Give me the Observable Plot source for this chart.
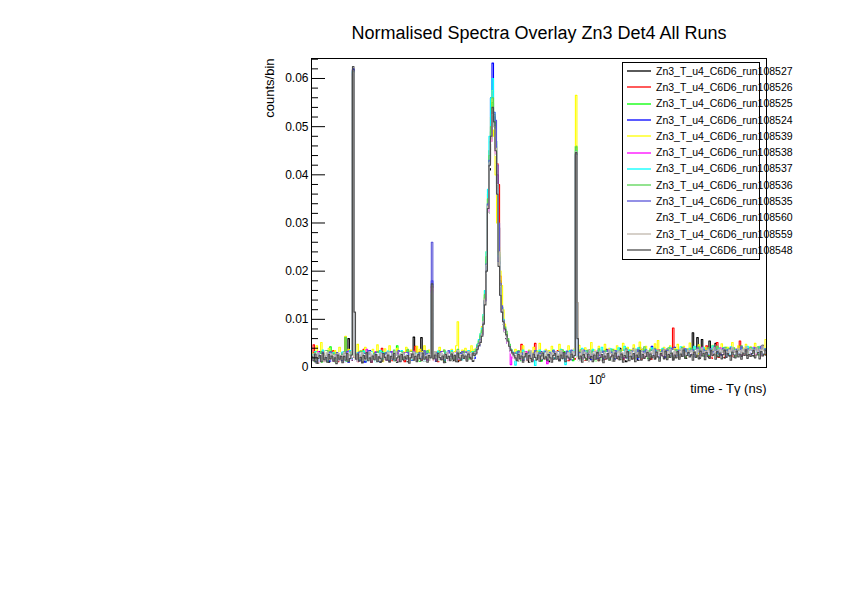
<!DOCTYPE html>
<html>
<head>
<meta charset="utf-8">
<script src="https://cdn.jsdelivr.net/npm/d3@7"></script>
<script src="https://cdn.jsdelivr.net/npm/@observablehq/plot@0.6"></script>
<style>
  html, body { margin: 0; padding: 0; background: #fff; }
  #chart { width: 842px; height: 595px; }
  svg { font-family: "Liberation Sans", Arial, Helvetica, sans-serif; }
</style>
</head>
<body>
<div id="chart"></div>
<script>
// ---- Chart texts ----
const titleText = "Normalised Spectra Overlay Zn3 Det4 All Runs";
const xLabel = "time - T\u03b3 (ns)";
const yLabel = "counts/bin";

// ---- Histogram binning (log-spaced bins, as in the source histograms) ----
const nBins = 300;
const tMin = 2.68e5;
const tMax = 2.18e6;

// ---- Axis ticks ----
const yMajorTicks = [0, 0.01, 0.02, 0.03, 0.04, 0.05, 0.06];
const yMinorTicks = [0.002, 0.004, 0.006, 0.008, 0.012, 0.014, 0.016, 0.018, 0.022, 0.024, 0.026, 0.028,
  0.032, 0.034, 0.036, 0.038, 0.042, 0.044, 0.046, 0.048, 0.052, 0.054, 0.056, 0.058, 0.062, 0.064];
const xMajorTicks = [1e6];
const xTickBase = "10";
const xTickExp = "6";

// ---- Series (legend order = draw order) ----
const runNames = [
  "Zn3_T_u4_C6D6_run108527", "Zn3_T_u4_C6D6_run108526", "Zn3_T_u4_C6D6_run108525",
  "Zn3_T_u4_C6D6_run108524", "Zn3_T_u4_C6D6_run108539", "Zn3_T_u4_C6D6_run108538",
  "Zn3_T_u4_C6D6_run108537", "Zn3_T_u4_C6D6_run108536", "Zn3_T_u4_C6D6_run108535",
  "Zn3_T_u4_C6D6_run108560", "Zn3_T_u4_C6D6_run108559", "Zn3_T_u4_C6D6_run108548"
];
const runColors = ["#000000", "#ff0000", "#00ff00", "#0000ff", "#ffff00", "#ff00ff",
  "#00ffff", "#59d454", "#5954d9", "#ffffff", "#c0b6ac", "#4d4d4d"];

// bin contents, in units of 1e-4 counts/bin (300 bins each)
const run108527 = [
  18,30,12,25,9,33,20,14,27,16, 24,11,29,20,15,27,13,31,22,17, 26,12,63,19,60,28,15,618,22,13,
  28,17,26,10,31,21,15,24,29,12, 20,27,14,22,34,11,25,18,30,16, 23,13,29,21,17,26,11,28,19,32,
  15,25,20,12,29,23,17,63,26,14, 22,18,62,27,13,24,30,16,21,160, 19,24,13,30,21,16,27,22,11,29,
  25,18,23,14,28,20,12,26,31,17, 22,27,15,29,19,24,13,26,32,40, 48,58,70,95,140,215,320,410,470,500,
  520,470,400,290,180,120,90,74,60,50, 40,33,28,22,17,27,13,25,20,31, 16,31,24,11,26,19,30,22,15,28,
  21,14,27,33,18,25,12,29,23,17, 26,20,31,14,24,28,16,22,33,19, 25,30,18,25,440,27,14,29,22,17,
  31,23,12,27,20,35,16,28,24,19, 26,14,30,21,38,17,25,29,13,33, 22,27,16,40,24,19,31,12,28,23,
  35,18,26,30,21,15,42,24,38,20, 29,23,31,17,26,34,19,28,22,36, 25,30,19,27,38,21,33,24,17,29,
  32,26,20,35,28,23,38,19,30,25, 27,72,22,31,62,26,19,58,24,33, 28,21,55,30,25,34,50,23,29,36,
  26,32,20,37,28,24,40,30,22,35, 31,27,45,23,34,29,38,25,32,28, 36,24,30,41,27,33,29,46,31,26];
const run108526 = [
  25,47,15,22,30,11,26,19,33,14, 21,28,16,24,35,18,23,12,29,20, 27,17,24,31,14,26,20,612,21,28,
  12,29,17,23,38,14,26,20,31,11, 24,19,33,15,27,22,40,13,25,30, 17,21,28,14,26,18,32,23,15,29,
  24,12,35,20,27,16,30,22,44,19, 26,33,15,28,24,17,30,21,25,168, 15,29,24,12,35,20,27,16,30,22,
  19,26,31,17,28,21,33,14,27,23, 30,18,26,22,34,20,28,24,33,42, 50,60,72,98,145,210,330,420,470,510,
  500,460,423,380,190,125,95,76,62,52, 42,35,29,24,18,31,17,26,48,20, 29,14,25,33,18,27,22,50,15,28,
  21,32,24,17,30,23,16,26,19,33, 27,22,35,18,29,24,31,20,25,14, 33,21,27,17,438,21,33,19,27,24,
  15,29,22,36,18,26,31,20,25,14, 33,21,27,17,30,24,19,28,22,35, 26,18,31,23,29,16,27,23,20,32,
  24,30,19,27,35,22,28,17,31,25, 21,33,26,29,18,30,24,35,27,20, 31,26,23,28,19,34,25,30,82,27,
  22,36,28,24,32,26,30,21,38,29, 25,33,28,36,23,30,27,34,26,31, 45,28,23,31,19,36,26,52,21,29,
  27,34,22,30,25,28,38,24,32,26, 33,29,55,25,31,27,36,30,24,34, 28,37,26,32,29,35,24,40,30,27];
const run108525 = [
  20,13,27,33,16,24,11,29,21,18, 30,15,43,22,26,12,28,19,31,24, 14,25,20,28,17,33,22,615,27,19,
  24,30,16,21,35,13,26,19,29,22, 17,31,24,14,27,21,33,18,25,28, 22,15,30,19,26,13,45,21,32,17,
  25,29,20,34,16,27,22,31,18,24, 28,13,26,33,20,25,17,30,23,150, 25,18,28,22,15,30,19,26,13,29,
  21,32,17,25,29,20,34,16,27,22, 31,18,24,27,20,33,26,30,34,44, 50,62,75,100,150,225,340,430,490,550,
  520,470,380,240,170,125,100,85,70,60, 48,38,32,26,22,19,30,14,27,22, 33,18,25,21,30,16,26,22,34,19,
  28,13,24,31,20,27,15,29,22,36, 19,25,30,22,27,17,33,24,20,28, 31,25,14,29,460,24,30,18,26,21,
  33,17,28,23,20,31,25,14,29,22, 18,30,24,35,21,27,16,32,25,19, 28,23,34,17,26,30,21,29,18,36,
  22,27,31,19,25,33,20,28,24,30, 26,19,32,24,38,21,29,25,33,18, 30,24,27,35,20,28,32,23,29,26,
  22,33,27,30,24,37,21,29,34,25, 31,26,35,22,29,33,27,40,24,30, 28,34,25,31,37,26,32,29,23,36,
  33,27,30,42,25,31,28,35,29,24, 37,30,26,33,29,36,31,27,40,32, 29,34,31,38,26,32,35,30,28,39];
const run108524 = [
  15,28,21,12,30,19,25,16,23,34, 18,26,13,29,20,24,31,17,22,27, 14,32,19,25,11,28,21,620,30,22,
  26,14,32,19,25,11,28,21,35,16, 22,29,18,26,13,31,24,17,27,20, 33,15,25,21,29,16,24,19,27,13,
  20,31,18,25,22,34,15,28,19,26, 30,21,24,33,18,27,16,29,22,180, 27,13,20,31,18,25,22,34,15,28,
  19,26,30,21,24,33,18,27,23,29, 21,32,17,25,28,22,30,19,31,36, 44,55,68,92,138,210,340,450,560,632,
  520,440,350,220,150,115,92,76,62,50, 40,33,27,22,17,33,25,21,30,15, 28,24,19,35,22,28,16,31,25,20,
  27,33,18,23,29,16,26,21,30,25, 20,27,33,18,23,29,16,26,21,30, 29,16,26,21,442,30,19,25,32,22,
  27,35,20,28,16,30,23,26,19,33, 24,29,18,31,25,22,36,20,27,30, 17,33,25,28,21,37,24,30,19,27,
  31,22,40,25,29,18,33,26,21,35, 27,30,24,28,44,22,31,26,36,20, 29,25,33,21,38,27,24,31,28,42,
  23,30,26,35,29,24,32,27,38,25, 33,28,22,36,30,41,26,32,29,24, 35,27,31,38,25,33,29,44,28,30,
  26,34,30,23,37,31,28,35,40,27, 32,29,36,26,33,30,39,28,34,31, 27,38,31,35,29,42,33,26,36,30];
const run108539 = [
  30,18,24,45,13,27,52,20,34,16, 26,40,19,28,22,35,15,29,42,19, 31,26,65,14,38,21,28,605,30,17,
  48,23,35,15,29,42,19,31,26,14, 38,21,28,47,17,33,24,12,39,27, 20,45,26,18,31,22,40,15,29,24,
  33,20,42,27,16,36,25,30,19,44, 28,38,22,33,45,30,24,36,27,155, 29,24,33,20,42,27,16,36,25,30,
  19,28,38,22,33,45,95,30,24,36, 27,40,22,33,29,45,31,38,40,48, 56,70,85,110,160,240,360,450,520,575,
  480,400,300,250,200,170,120,90,70,55, 42,35,28,20,38,26,18,34,27,45, 22,31,17,36,29,24,42,21,33,27,
  50,19,31,25,38,22,35,28,44,26, 33,19,29,48,24,36,22,31,27,45, 20,34,28,39,565,31,46,22,35,29,
  41,24,33,27,52,21,37,30,25,44, 28,36,23,48,31,26,40,33,22,38, 30,45,27,35,24,50,32,28,42,26,
  37,31,47,25,34,29,53,30,38,27, 44,32,26,40,35,30,49,28,56,33, 36,27,42,31,38,25,45,33,29,40,
  34,48,30,37,27,44,32,39,28,51, 35,29,43,33,26,47,31,38,30,42, 28,40,35,30,46,33,27,44,36,31,
  49,32,38,29,42,35,30,52,34,39, 31,45,36,28,41,33,48,30,37,43, 35,29,50,38,32,44,36,41,30,58];
const run108538 = [
  22,14,29,19,33,12,25,21,16,28, 20,31,17,24,13,27,19,25,15,30, 21,12,26,18,34,23,16,610,29,20,
  14,27,22,31,17,25,38,19,24,12, 28,21,33,16,25,19,30,22,27,15, 24,29,18,33,21,26,14,30,23,19,
  27,22,31,25,17,28,20,34,16,26, 23,30,19,27,21,33,15,28,24,165, 22,27,15,24,29,18,33,21,26,14,
  30,23,19,27,22,31,25,17,28,20, 26,32,18,29,24,30,21,27,31,42, 50,60,72,95,140,205,325,420,470,530,
  505,445,370,230,160,118,94,78,64,50, 40,6,26,19,31,22,27,16,29,24, 20,33,18,26,21,29,15,27,23,31,
  19,24,30,20,27,8,23,29,17,26, 33,21,28,24,19,32,26,22,30,18, 27,29,23,33,445,26,31,24,19,35,
  22,27,32,21,28,24,30,19,34,26, 23,30,25,28,21,36,27,23,31,26, 29,22,34,27,24,30,19,35,28,25,
  31,26,29,23,37,27,32,25,30,22, 34,28,25,33,29,24,31,27,36,26, 30,25,38,28,33,27,35,29,31,26,
  37,29,34,31,27,40,30,28,36,33, 29,35,31,27,38,32,26,42,30,34, 28,36,32,39,27,34,30,37,29,41,
  33,29,40,31,35,28,38,32,36,30, 38,31,27,41,33,36,29,39,34,32, 30,42,35,28,37,33,40,31,36,34];
const run108537 = [
  27,17,33,22,14,29,20,36,18,25, 13,30,22,19,31,16,24,28,20,17, 32,25,13,28,21,35,18,615,26,22,
  31,16,27,20,34,23,14,29,21,33, 19,26,12,30,24,35,18,31,20,27, 34,17,29,23,15,32,26,20,28,35,
  18,27,24,33,21,29,16,25,30,22, 26,19,31,24,14,28,33,21,25,158, 31,20,27,34,17,29,23,15,32,26,
  20,28,35,18,27,24,33,21,29,16, 25,30,22,35,27,29,33,24,38,48, 58,70,82,110,160,240,370,480,560,600,
  530,470,370,230,165,125,100,82,68,56, 46,38,32,27,5,32,20,28,24,36, 17,29,22,26,33,19,28,4,30,25,
  36,21,29,34,20,28,25,32,22,36, 27,19,30,24,38,22,29,6,33,27, 35,21,28,36,450,23,31,26,40,22,
  34,29,25,33,27,38,24,31,22,36, 29,42,26,31,35,24,28,39,30,25, 34,27,41,29,32,26,44,30,25,36,
  28,33,24,38,29,41,30,26,35,31, 38,29,34,27,41,30,26,35,31,28, 33,40,28,31,36,27,42,30,34,29,
  37,31,26,43,32,29,38,34,27,40, 31,36,44,28,33,39,30,35,41,29, 34,28,37,32,45,30,36,29,40,33,
  29,41,35,31,38,27,43,34,30,37, 36,32,29,40,34,38,31,44,33,35, 41,30,37,34,29,43,35,32,39,36];
const run108536 = [
  19,26,31,14,24,20,33,17,28,22, 35,18,25,21,29,16,26,24,20,28, 17,30,62,13,27,32,19,614,25,24,
  28,21,34,15,26,30,22,17,31,25, 18,29,25,33,14,27,22,20,30,25, 18,31,22,28,36,19,27,24,15,32,
  25,19,29,38,21,26,33,17,28,23, 30,24,19,27,32,22,35,18,26,152, 20,30,25,18,31,22,28,36,19,27,
  24,15,32,25,19,29,38,21,30,27, 34,22,29,17,31,26,20,33,36,46, 55,66,78,105,152,230,350,440,500,560,
  525,465,375,235,165,122,97,84,75,60, 48,38,30,25,30,22,35,19,27,31, 24,20,28,34,22,29,17,31,26,20,
  33,27,24,19,32,27,22,30,24,35, 21,28,25,32,20,37,24,29,33,22, 30,35,20,26,458,23,29,37,25,31,
  27,24,36,28,22,33,27,31,25,39, 28,26,32,29,35,23,30,27,38,25, 33,31,27,36,24,32,28,40,26,30,
  35,27,33,29,38,25,31,35,28,43, 30,34,29,37,26,32,40,30,35,28, 33,38,27,34,30,41,28,36,32,29,
  37,31,35,28,42,33,29,38,34,30, 40,32,36,29,34,43,31,37,33,28, 35,41,30,38,32,36,29,44,34,31,
  37,33,42,30,36,39,32,35,41,29, 34,38,31,45,35,32,40,36,30,42, 33,39,36,31,43,37,34,40,35,38];
const run108535 = [
  24,16,29,21,13,27,19,32,23,15, 28,20,33,17,25,22,27,14,30,22, 19,28,24,33,16,25,20,617,29,13,
  26,32,18,24,21,29,16,35,22,27, 20,25,31,18,27,23,30,24,19,31, 26,20,33,17,28,24,21,35,25,22,
  30,26,18,31,24,27,20,33,22,28, 25,31,19,27,35,22,29,24,30,260, 24,19,31,26,20,33,17,28,24,21,
  35,25,22,30,26,18,31,24,29,33, 27,22,32,25,30,24,29,26,32,42, 50,58,68,94,140,215,340,430,480,520,
  530,513,420,300,175,128,98,80,66,54, 43,36,31,24,28,19,33,26,22,30, 25,18,27,32,24,29,21,35,26,19,
  30,25,22,29,34,27,24,31,26,35, 22,28,33,25,31,20,30,26,34,23, 29,36,25,32,443,25,31,22,28,36,
  24,30,27,35,22,28,33,25,31,20, 30,26,34,23,29,36,25,32,28,24, 35,29,24,31,27,33,23,38,30,26,
  29,34,27,31,25,37,30,24,33,28, 36,26,31,29,34,27,38,25,32,30, 28,35,31,26,36,29,33,40,27,31,
  32,28,36,30,34,27,39,31,29,35, 30,37,33,28,41,32,35,29,38,31, 34,29,39,33,31,42,28,36,32,37,
  31,40,35,29,37,33,41,30,35,32, 38,33,30,43,34,37,31,39,35,29, 36,31,41,34,38,32,44,35,30,39];
const run108560 = [
  12,24,17,30,20,9,27,15,22,33, 16,21,28,13,25,19,10,23,31,18, 24,11,27,19,30,14,22,612,23,11,
  27,19,30,14,22,27,18,10,25,31, 16,23,12,29,20,15,27,21,9,26, 18,30,17,22,28,13,24,19,31,10,
  26,20,29,14,23,31,18,25,11,28, 21,15,26,30,13,24,20,28,17,165, 10,26,20,29,14,23,31,18,25,11,
  28,21,15,26,30,13,24,19,27,22, 17,29,12,25,21,30,16,27,24,34, 42,50,62,86,128,195,320,415,465,525,
  495,440,360,215,150,112,90,74,62,50, 38,30,24,15,27,21,10,29,18,24, 31,13,26,20,12,28,23,17,31,9,
  25,19,27,14,30,22,18,26,12,29, 23,17,31,20,26,14,28,22,16,30, 25,18,30,21,440,20,13,28,23,16,
  26,21,11,29,24,18,32,15,27,22, 13,29,24,19,31,16,28,22,10,27, 21,14,30,25,18,33,23,16,29,20,
  26,19,32,13,28,24,17,31,22,27, 15,30,21,26,33,19,24,29,16,31, 23,18,30,25,14,32,27,20,35,24,
  29,22,17,33,26,21,30,24,19,28, 32,25,20,35,27,23,31,18,29,26, 21,34,28,24,30,19,33,27,25,36,
  29,23,31,26,20,35,28,32,24,30, 26,33,22,29,37,25,31,28,23,34, 30,27,35,24,32,28,21,36,29,33];
const run108559 = [
  17,29,22,14,31,24,18,27,12,25, 31,16,23,28,19,26,21,30,14,25, 18,31,21,15,28,24,33,616,21,30,
  14,25,18,31,21,15,28,24,33,17, 26,19,28,23,14,30,21,27,17,24, 32,16,22,29,19,33,26,14,28,22,
  30,17,25,21,14,29,23,32,18,26, 24,17,31,28,22,19,27,15,30,170, 21,33,26,16,25,30,19,27,22,31,
  15,24,31,20,27,23,35,18,26,22, 29,19,24,33,21,28,25,31,30,40, 48,56,70,96,142,212,335,425,475,535,
  500,455,380,240,168,120,96,80,66,54, 44,36,29,23,18,26,21,30,25,18, 32,26,22,28,35,19,29,24,31,21,
  27,18,32,26,21,34,29,17,31,24, 28,33,19,27,35,24,29,22,26,31, 20,29,33,26,448,135,28,21,36,25,
  32,23,29,35,21,30,26,33,24,28, 34,27,22,31,28,24,37,29,26,33, 25,30,34,22,31,28,24,36,30,27,
  33,26,29,38,24,31,27,35,22,30, 28,35,26,32,29,37,24,31,34,27, 31,27,36,29,33,25,38,30,28,34,
  27,33,30,39,26,35,31,28,36,32, 35,29,33,27,38,31,34,40,29,33, 30,37,32,28,35,41,31,34,38,29,
  36,31,39,33,29,37,34,42,31,35, 33,40,35,31,38,34,43,30,36,39, 37,32,36,41,34,38,31,45,35,33];
const run108548 = [
  22,14,28,9,19,25,12,30,16,21, 11,27,18,24,13,20,8,26,17,23, 10,23,15,29,12,19,26,625,115,17,
  28,13,21,10,25,18,31,14,20,11, 24,16,27,12,22,19,13,29,21,15, 26,11,23,17,29,14,20,24,12,27,
  16,22,18,25,9,20,28,15,23,12, 27,19,14,30,17,22,11,25,20,174, 18,26,13,29,21,16,24,10,27,19,
  23,14,28,17,25,12,30,20,15,26, 19,24,13,28,21,17,30,25,28,38, 45,52,65,90,130,200,330,420,480,540,
  510,450,360,210,150,115,95,80,68,55, 44,36,30,26,20,14,27,18,24,11, 22,29,15,25,19,12,28,21,16,26,
  13,24,30,18,22,15,27,20,11,25, 29,17,23,14,26,19,31,12,24,20, 16,28,21,25,446,60,18,24,11,27,
  20,15,28,19,23,12,26,17,31,14, 21,27,10,24,18,29,15,22,26,13, 30,19,23,16,28,11,25,20,33,14,
  24,18,29,12,26,21,35,15,27,19, 23,31,14,28,20,25,17,32,22,13, 29,24,18,34,16,27,21,30,15,26,
  20,33,17,28,23,36,19,25,31,22, 27,15,32,21,26,18,34,24,29,16, 31,23,19,35,25,28,17,33,22,30,
  18,27,36,21,29,24,15,32,26,20, 34,22,28,17,30,25,37,19,27,23, 29,35,20,26,31,18,33,24,28,36];

const runValues = [run108527, run108526, run108525, run108524, run108539, run108538,
  run108537, run108536, run108535, run108560, run108559, run108548];
const valueUnit = 1e-4;

// ---- Build step-histogram tables ----
const edges = d3.range(nBins + 1).map(i => tMin * Math.pow(tMax / tMin, i / nBins));
function histTable(vals) {
  const n = Math.min(vals.length, nBins);
  const pts = [];
  for (let i = 0; i < n; i++) pts.push({t: edges[i], v: vals[i] * valueUnit});
  pts.push({t: edges[n], v: vals[n - 1] * valueUnit});
  return pts;
}

const W = 842, H = 595;
const mLeft = 311, mRight = 76, mTop = 58, mBottom = 228;
const frameW = W - mLeft - mRight;
const font = "Liberation Sans, Arial, Helvetica, sans-serif";

const lineMarks = runValues.map((vals, k) =>
  Plot.line(histTable(vals), {x: "t", y: "v", curve: "step-after", stroke: runColors[k], strokeWidth: 1.1})
);

const chart = Plot.plot({
  width: W,
  height: H,
  marginLeft: mLeft,
  marginRight: mRight,
  marginTop: mTop,
  marginBottom: mBottom,
  style: {fontFamily: font, background: "#fff", color: "#000"},
  x: {type: "log", domain: [tMin, tMax]},
  y: {domain: [0, 0.06415]},
  marks: [
    ...lineMarks,
    // inside y ticks
    Plot.tickY(yMajorTicks, {y: d => d, stroke: "#000", insetRight: frameW - 14}),
    Plot.tickY(yMinorTicks, {y: d => d, stroke: "#000", insetRight: frameW - 7}),
    Plot.axisY({ticks: yMajorTicks, tickSize: 0, tickPadding: 3, fontSize: 12, label: null,
      tickFormat: d => d === 0 ? "0" : d3.format(".2f")(d)}),
    Plot.axisX({ticks: xMajorTicks, tickSize: 0, tickPadding: 8, fontSize: 12, label: null,
      tickFormat: () => xTickBase, dx: -2}),
    Plot.text(xMajorTicks, {x: d => d, frameAnchor: "bottom", text: () => xTickExp, fontSize: 8,
      dx: 6, dy: 5, lineAnchor: "top"}),
    Plot.frame({stroke: "#000", strokeWidth: 1}),
    Plot.text([titleText], {frameAnchor: "top", text: d => d, fontSize: 18, dy: -25, lineAnchor: "middle", fill: "#000"}),
    Plot.text([yLabel], {frameAnchor: "top-left", text: d => d, fontSize: 13, rotate: -90,
      textAnchor: "end", lineAnchor: "middle", dx: -42, fill: "#000"}),
    Plot.text([xLabel], {frameAnchor: "bottom-right", text: d => d, fontSize: 13,
      textAnchor: "end", lineAnchor: "middle", dy: 21, fill: "#000"})
  ]
});

document.getElementById("chart").appendChild(chart);

// ---- Legend box (inside frame, top-right; entry text overflows the box as in the source) ----
const svg = d3.select(chart);
const lg = svg.append("g").attr("font-family", font).attr("text-anchor", "start");
const boxX = 622.5, boxY = 62.5, boxW = 137, boxH = 197;
lg.append("rect").attr("x", boxX).attr("y", boxY).attr("width", boxW).attr("height", boxH)
  .attr("fill", "#fff").attr("stroke", "#000").attr("stroke-width", 1);
const rowH = 16.27, row0 = 71.2;
runNames.forEach((name, i) => {
  const y = row0 + i * rowH;
  const ly = Math.round(y);
  lg.append("line").attr("x1", 627).attr("x2", 651).attr("y1", ly).attr("y2", ly)
    .attr("stroke", runColors[i]).attr("stroke-width", 1.3);
  lg.append("text").attr("x", 656).attr("y", y).attr("dy", "0.35em").attr("text-anchor", "start")
    .attr("font-size", 10.5).attr("fill", "#000").text(name);
});
</script>
</body>
</html>
